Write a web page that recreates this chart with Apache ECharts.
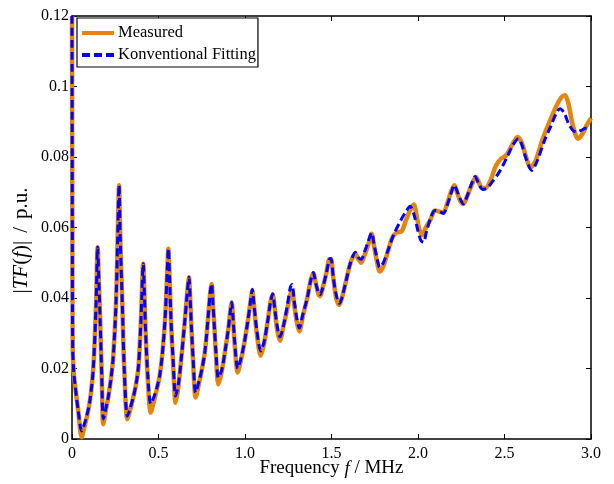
<!DOCTYPE html>
<html>
<head>
<meta charset="utf-8">
<script src="https://cdn.jsdelivr.net/npm/echarts@6/dist/echarts.min.js"></script>
<style>html,body{margin:0;padding:0;background:#fff}#c{width:614px;height:484px}</style>
</head>
<body>
<div id="c"></div>
<script>
var xTicks = [0, 0.5, 1.0, 1.5, 2.0, 2.5, 3.0];
var yTicks = [0, 0.02, 0.04, 0.06, 0.08, 0.1, 0.12];
var seriesNames = ['Measured', 'Konventional Fitting'];

var measured = [
[0,0.12],[0.002,0.06],[0.004,0.026],[0.01,0.019],[0.017,0.0156],[0.036,0.008],[0.056,0.0005],
[0.07,0.003],[0.085,0.006],[0.104,0.011],[0.123,0.020],[0.139,0.038],[0.148,0.0544],[0.155,0.045],[0.162,0.035],[0.172,0.018],[0.181,0.0042],
[0.195,0.008],[0.21,0.012],[0.225,0.017],[0.238,0.023],[0.254,0.038],[0.264,0.057],[0.272,0.072],[0.279,0.057],[0.291,0.038],[0.302,0.020],[0.320,0.0056],
[0.335,0.008],[0.355,0.012],[0.372,0.016],[0.385,0.021],[0.398,0.033],[0.412,0.0497],[0.418,0.042],[0.425,0.031],[0.437,0.018],[0.455,0.0075],
[0.47,0.010],[0.49,0.014],[0.507,0.018],[0.522,0.024],[0.538,0.034],[0.550,0.047],[0.557,0.054],[0.564,0.046],[0.572,0.034],[0.584,0.022],[0.599,0.0103],
[0.615,0.015],[0.634,0.024],[0.653,0.034],[0.667,0.042],[0.676,0.0459],[0.683,0.040],[0.690,0.032],[0.700,0.022],[0.715,0.0118],
[0.735,0.016],[0.752,0.020],[0.769,0.025],[0.786,0.034],[0.800,0.042],[0.807,0.044],[0.814,0.039],[0.824,0.031],[0.833,0.023],[0.846,0.0155],
[0.865,0.019],[0.885,0.025],[0.903,0.031],[0.917,0.037],[0.923,0.0388],[0.930,0.035],[0.940,0.027],[0.958,0.0189],
[0.975,0.022],[0.995,0.027],[1.015,0.033],[1.032,0.039],[1.042,0.042],[1.052,0.038],[1.068,0.030],[1.091,0.0236],
[1.110,0.027],[1.130,0.033],[1.148,0.039],[1.160,0.041],[1.172,0.037],[1.186,0.031],[1.202,0.0279],
[1.222,0.032],[1.245,0.037],[1.262,0.041],[1.272,0.042],[1.285,0.038],[1.300,0.033],[1.314,0.0305],
[1.335,0.035],[1.360,0.040],[1.380,0.045],[1.395,0.047],[1.410,0.044],[1.425,0.041],[1.434,0.0405],[1.450,0.043],[1.470,0.047],[1.488,0.051],[1.497,0.051],[1.510,0.046],[1.527,0.040],[1.545,0.038],
[1.560,0.040],[1.585,0.045],[1.610,0.050],[1.638,0.0525],[1.655,0.051],[1.672,0.0500],[1.690,0.052],[1.712,0.055],[1.732,0.0582],[1.745,0.055],[1.760,0.051],[1.780,0.0475],
[1.800,0.049],[1.825,0.053],[1.850,0.057],[1.875,0.0585],[1.906,0.0590],[1.930,0.062],[1.955,0.065],[1.975,0.0665],[1.990,0.064],[2.005,0.060],[2.025,0.0578],
[2.045,0.060],[2.070,0.062],[2.098,0.0648],[2.125,0.0645],[2.146,0.0642],[2.170,0.067],[2.190,0.070],[2.210,0.072],[2.225,0.070],[2.245,0.0675],[2.262,0.0667],
[2.285,0.069],[2.310,0.072],[2.335,0.0743],[2.350,0.073],[2.370,0.0712],[2.390,0.0712],[2.420,0.0735],[2.450,0.0775],[2.480,0.0795],[2.510,0.0805],[2.545,0.0835],[2.575,0.0857],
[2.600,0.0840],[2.625,0.0800],[2.650,0.0770],[2.680,0.0790],[2.720,0.0850],[2.760,0.0900],[2.800,0.0945],[2.830,0.0970],[2.850,0.0975],[2.870,0.0950],[2.895,0.0890],[2.925,0.0852],
[2.950,0.0865],[2.975,0.0890],[3.000,0.0910]
];

var fitting = [
[0,0.12],[0.002,0.06],[0.004,0.026],[0.01,0.019],[0.017,0.0156],[0.036,0.008],[0.056,0.0023],
[0.07,0.004],[0.085,0.0065],[0.104,0.011],[0.123,0.020],[0.139,0.038],[0.148,0.0544],[0.155,0.045],[0.162,0.035],[0.172,0.018],[0.181,0.0057],
[0.195,0.0085],[0.21,0.012],[0.225,0.017],[0.238,0.023],[0.254,0.038],[0.264,0.057],[0.272,0.072],[0.279,0.057],[0.291,0.038],[0.302,0.020],[0.320,0.0065],
[0.335,0.0085],[0.355,0.012],[0.372,0.016],[0.385,0.021],[0.398,0.033],[0.412,0.0497],[0.418,0.042],[0.425,0.031],[0.437,0.019],[0.455,0.010],
[0.47,0.0115],[0.49,0.0145],[0.507,0.018],[0.522,0.024],[0.538,0.034],[0.550,0.047],[0.557,0.054],[0.564,0.046],[0.572,0.034],[0.584,0.023],[0.599,0.0122],
[0.615,0.0155],[0.634,0.024],[0.653,0.034],[0.667,0.042],[0.676,0.0459],[0.683,0.040],[0.690,0.032],[0.700,0.023],[0.715,0.0132],
[0.735,0.0165],[0.752,0.020],[0.769,0.025],[0.786,0.034],[0.800,0.042],[0.807,0.044],[0.814,0.039],[0.824,0.031],[0.833,0.024],[0.846,0.0174],
[0.865,0.0195],[0.885,0.025],[0.903,0.031],[0.917,0.037],[0.923,0.0388],[0.930,0.035],[0.940,0.028],[0.958,0.020],
[0.975,0.0225],[0.995,0.027],[1.015,0.033],[1.032,0.039],[1.042,0.0425],[1.052,0.038],[1.068,0.031],[1.091,0.025],
[1.110,0.0275],[1.130,0.033],[1.148,0.039],[1.160,0.0412],[1.172,0.037],[1.186,0.032],[1.202,0.029],
[1.222,0.032],[1.245,0.038],[1.262,0.043],[1.272,0.0438],[1.285,0.039],[1.300,0.034],[1.314,0.0315],
[1.335,0.0355],[1.360,0.040],[1.380,0.045],[1.395,0.0472],[1.410,0.044],[1.425,0.0415],[1.434,0.041],[1.450,0.043],[1.470,0.047],[1.488,0.051],[1.497,0.0512],[1.510,0.046],[1.527,0.041],[1.545,0.0385],
[1.560,0.040],[1.585,0.045],[1.610,0.050],[1.638,0.053],[1.655,0.0515],[1.672,0.0510],[1.690,0.053],[1.712,0.056],[1.732,0.0585],[1.745,0.0555],[1.760,0.052],[1.780,0.0487],
[1.800,0.050],[1.830,0.054],[1.860,0.058],[1.900,0.0620],[1.930,0.0645],[1.954,0.0660],[1.975,0.0640],[1.995,0.0600],[2.015,0.0565],[2.031,0.0558],
[2.050,0.0590],[2.075,0.0630],[2.098,0.0648],[2.125,0.0645],[2.146,0.0640],[2.170,0.0665],[2.190,0.0695],[2.210,0.0720],[2.225,0.0705],[2.245,0.068],[2.262,0.0667],
[2.285,0.069],[2.310,0.0725],[2.330,0.0745],[2.350,0.0725],[2.375,0.0708],[2.400,0.0712],[2.430,0.0730],[2.460,0.0750],[2.490,0.0775],[2.520,0.0805],[2.550,0.0835],[2.580,0.0852],
[2.600,0.0835],[2.625,0.0795],[2.657,0.0762],[2.690,0.0790],[2.730,0.0845],[2.770,0.0890],[2.800,0.0925],[2.821,0.0937],[2.845,0.0925],[2.870,0.0895],[2.895,0.0876],[2.917,0.0871],
[2.940,0.0875],[2.970,0.0882],[3.000,0.0885]
];

var FONT = 'Liberation Serif';
var ORANGE = '#E3860E';
var BLUE = '#0000FF';
var chart = echarts.init(document.getElementById('c'), null, {renderer: 'canvas'});
var xFmt = function (v) { return v === 0 ? '0' : v.toFixed(1); };
var yFmt = function (v) { return v === 0 ? '0' : String(+v.toFixed(2)); };
var axisCommon = {
  axisLine: {show: true, onZero: false, lineStyle: {color: '#000', width: 1.5}},
  axisTick: {show: true, inside: true, length: 5, lineStyle: {color: '#000', width: 1}},
  splitLine: {show: false}
};
chart.setOption({
  animation: false,
  backgroundColor: '#fff',
  grid: {left: 72, right: 23, top: 16, bottom: 45, containLabel: false, outerBoundsMode: 'none'},
  legend: {
    show: true, orient: 'vertical', left: 77, top: 18,
    data: [
      {name: seriesNames[0], icon: 'path://M0,0h32v4H0z'},
      {name: seriesNames[1], icon: 'path://M0,0h8v4H0z M12,0h8v4h-8z M24,0h8v4h-8z'}
    ],
    backgroundColor: '#fff', borderColor: '#000', borderWidth: 1.2, borderRadius: 0,
    padding: [6, 2, 3, 5], itemGap: 4, itemWidth: 32, itemHeight: 4,
    textStyle: {fontFamily: FONT, fontSize: 16.5, color: '#000', lineHeight: 18, padding: [0, 0, 0, -1]}
  },
  xAxis: [
    Object.assign({}, axisCommon, {
      type: 'value', min: 0, max: 3.0, interval: 0.5, position: 'bottom',
      axisLabel: {formatter: xFmt, fontFamily: FONT, fontSize: 16, color: '#000', margin: 7},
      name: 'Frequency {i|f} / MHz', nameLocation: 'middle', nameGap: 20, nameMoveOverlap: false,
      nameTextStyle: {fontFamily: FONT, fontSize: 19, color: '#000', verticalAlign: 'top',
        rich: {i: {fontFamily: FONT, fontStyle: 'italic', fontSize: 19, color: '#000'}}}
    }),
    Object.assign({}, axisCommon, {
      type: 'value', min: 0, max: 3.0, interval: 0.5, position: 'top',
      axisLabel: {show: false}
    })
  ],
  yAxis: [
    Object.assign({}, axisCommon, {
      type: 'value', min: 0, max: 0.12, interval: 0.02, position: 'left',
      axisLabel: {formatter: yFmt, fontFamily: FONT, fontSize: 16, color: '#000', margin: 3},
      name: '|{i|TF}({i|f})|{s|/}p.u.', nameLocation: 'middle', nameGap: 40, nameRotate: 90, nameMoveOverlap: false,
      nameTextStyle: {fontFamily: FONT, fontSize: 21, color: '#000', padding: [0, 26, 0, 0],
        rich: {
          i: {fontFamily: FONT, fontStyle: 'italic', fontSize: 21, color: '#000'},
          s: {fontFamily: FONT, fontSize: 21, color: '#000', padding: [0, 8, 0, 8]}
        }}
    }),
    Object.assign({}, axisCommon, {
      type: 'value', min: 0, max: 0.12, interval: 0.02, position: 'right',
      axisLabel: {show: false}
    })
  ],
  series: [
    {
      name: seriesNames[0], type: 'line', xAxisIndex: 0, yAxisIndex: 0,
      data: measured, smooth: 0.3, showSymbol: false, symbol: 'none',
      lineStyle: {color: ORANGE, width: 4.5}, itemStyle: {color: ORANGE}, z: 2
    },
    {
      name: seriesNames[1], type: 'line', xAxisIndex: 0, yAxisIndex: 0,
      data: fitting, smooth: 0.3, showSymbol: false, symbol: 'none',
      lineStyle: {color: BLUE, width: 3, type: [8, 4]}, itemStyle: {color: BLUE}, z: 3
    }
  ]
});
</script>
</body>
</html>
